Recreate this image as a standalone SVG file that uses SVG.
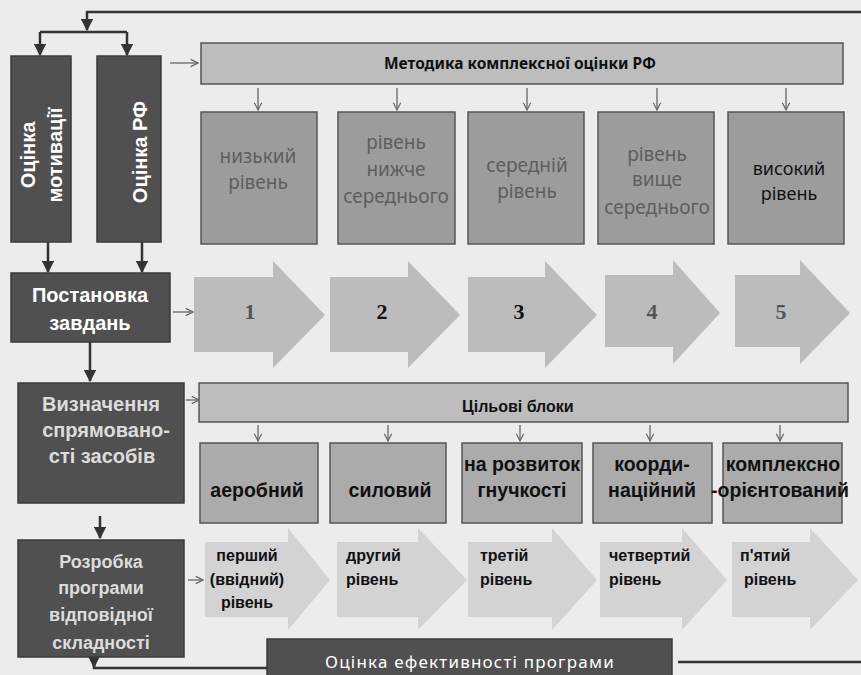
<svg xmlns="http://www.w3.org/2000/svg" width="861" height="675" viewBox="0 0 861 675">
<style>
.bg{fill:#ececec}
.dark{fill:#505050;stroke:#3a3a3a;stroke-width:1.5}
.bar{fill:#bdbdbd;stroke:#555;stroke-width:1.5}
.lvl{fill:#9c9c9c;stroke:#555;stroke-width:1.5}
.tgt{fill:#ababab;stroke:#555;stroke-width:1.5}
.bigarrow{fill:#bcbcbc}
.lowarrow{fill:#d3d3d3}
.wt{fill:#fff;font-family:"Liberation Sans",Arial,sans-serif;font-weight:bold;font-size:20px;text-anchor:middle}
.lt{fill:#dcdcdc;font-family:"Liberation Sans",Arial,sans-serif;font-weight:bold;font-size:18px;text-anchor:middle}
.gt{fill:#5e5e5e;font-family:"Noto Sans","Open Sans",sans-serif;font-size:19px;text-anchor:middle}
.bt{fill:#111;font-family:"Noto Sans","Open Sans",sans-serif;font-weight:bold;font-size:15.5px;text-anchor:middle}
.tb{fill:#111;font-family:"Liberation Sans",Arial,sans-serif;font-weight:bold;font-size:19.5px;text-anchor:middle}
.st{fill:#111;font-family:"Liberation Sans",Arial,sans-serif;font-weight:bold;font-size:16px}
.num{fill:#555;font-family:"Liberation Serif","Times New Roman",serif;font-weight:bold;font-size:22px;text-anchor:middle}
.ln{fill:none;stroke:#333;stroke-width:2.5}
.thin{fill:none;stroke:#666;stroke-width:1.3}
</style>
<defs>
<marker id="ah" viewBox="0 0 10 10" refX="9" refY="5" markerWidth="5" markerHeight="5" orient="auto"><path d="M0,0 L10,5 L0,10 Z" fill="#333"/></marker>
<marker id="oh" viewBox="0 0 10 10" refX="9" refY="5" markerWidth="7" markerHeight="7" orient="auto"><path d="M1,1 L9,5 L1,9" fill="none" stroke="#666" stroke-width="1.3"/></marker>
</defs>
<rect class="bg" x="0" y="0" width="861" height="675"/>

<g id="connectors">
<path class="ln" d="M861,12 H87 V30" marker-end="url(#ah)"/>
<path class="ln" d="M40,32 H127"/>
<path class="ln" d="M40,32 V55" marker-end="url(#ah)"/>
<path class="ln" d="M127,32 V55" marker-end="url(#ah)"/>
<path class="ln" d="M48,242 V272" marker-end="url(#ah)"/>
<path class="ln" d="M142,242 V272" marker-end="url(#ah)"/>
<path class="ln" d="M90,342 V381" marker-end="url(#ah)"/>
<path class="ln" d="M100,516 V538" marker-end="url(#ah)"/>
<path class="ln" d="M94,657 V668 H267"/>
<path class="ln" d="M94,657 V667" marker-end="url(#ah)"/>
<path class="ln" d="M678,662 H861"/>
<path class="thin" d="M170,63 H198" marker-end="url(#oh)"/>
<path class="thin" d="M173,312 H193" marker-end="url(#oh)"/>
<path class="thin" d="M186,400 H199" marker-end="url(#oh)"/>
<path class="thin" d="M188,580 H203" marker-end="url(#oh)"/>
<path class="thin" d="M258,88 V110" marker-end="url(#oh)"/>
<path class="thin" d="M397,88 V110" marker-end="url(#oh)"/>
<path class="thin" d="M527,88 V110" marker-end="url(#oh)"/>
<path class="thin" d="M657,88 V110" marker-end="url(#oh)"/>
<path class="thin" d="M786,88 V110" marker-end="url(#oh)"/>
<path class="thin" d="M258,425 V441" marker-end="url(#oh)"/>
<path class="thin" d="M388,425 V441" marker-end="url(#oh)"/>
<path class="thin" d="M520,425 V441" marker-end="url(#oh)"/>
<path class="thin" d="M650,425 V441" marker-end="url(#oh)"/>
<path class="thin" d="M780,425 V441" marker-end="url(#oh)"/>
</g>

<g id="n-motivation">
<rect class="dark" x="11" y="56" width="60" height="186"/>
<text class="wt" transform="translate(35,155) rotate(-90)">Оцінка</text>
<text class="wt" transform="translate(62,155) rotate(-90)">мотивації</text>
</g>
<g id="n-rf">
<rect class="dark" x="97" y="56" width="64" height="186"/>
<text class="wt" transform="translate(147,152) rotate(-90)">Оцінка РФ</text>
</g>

<g id="n-method">
<rect class="bar" x="201" y="43" width="642" height="41"/>
<text class="bt" x="520" y="69">Методика комплексної оцінки РФ</text>
</g>

<g id="n-l1"><rect class="lvl" x="201" y="112" width="116" height="132"/>
<text class="gt" x="258" y="163">низький</text><text class="gt" x="258" y="189">рівень</text></g>
<g id="n-l2"><rect class="lvl" x="338" y="112" width="117" height="132"/>
<text class="gt" x="396" y="149">рівень</text><text class="gt" x="396" y="176">нижче</text><text class="gt" x="396" y="203">середнього</text></g>
<g id="n-l3"><rect class="lvl" x="468" y="112" width="116" height="132"/>
<text class="gt" x="527" y="172">середній</text><text class="gt" x="527" y="198">рівень</text></g>
<g id="n-l4"><rect class="lvl" x="598" y="112" width="116" height="132"/>
<text class="gt" x="657" y="161">рівень</text><text class="gt" x="657" y="186">вище</text><text class="gt" x="657" y="214">середнього</text></g>
<g id="n-l5"><rect class="lvl" x="728" y="112" width="116" height="132"/>
<text class="gt" x="789" y="175" style="fill:#111;font-size:18px">високий</text><text class="gt" x="789" y="200" style="fill:#111;font-size:18px">рівень</text></g>

<g id="n-task">
<rect class="dark" x="11" y="273" width="159" height="69"/>
<text class="wt" x="90" y="302">Постановка</text>
<text class="wt" x="90" y="330">завдань</text>
</g>

<g id="n-a1"><path class="bigarrow" d="M194,277 H273 V261 L325,315 L273,368 V352 H194 Z"/><text class="num" x="250" y="319">1</text></g>
<g id="n-a2"><path class="bigarrow" d="M330,277 H408 V261 L460,315 L408,368 V352 H330 Z"/><text class="num" x="382" y="319" style="fill:#111">2</text></g>
<g id="n-a3"><path class="bigarrow" d="M468,277 H545 V261 L597,315 L545,368 V352 H468 Z"/><text class="num" x="519" y="319" style="fill:#111">3</text></g>
<g id="n-a4"><path class="bigarrow" d="M605,275 H673 V260 L720,313 L673,364 V347 H605 Z"/><text class="num" x="652" y="319">4</text></g>
<g id="n-a5"><path class="bigarrow" d="M735,275 H800 V260 L850,313 L800,364 V347 H735 Z"/><text class="num" x="781" y="319">5</text></g>

<g id="n-direction">
<rect class="dark" x="18" y="383" width="166" height="120"/>
<text class="lt" x="101" y="411" style="font-size:20px">Визначення</text>
<text class="lt" x="106" y="437" style="font-size:20px">спрямовано-</text>
<text class="lt" x="102" y="463" style="font-size:20px">сті засобів</text>
</g>

<g id="n-blocks">
<rect class="bar" x="199" y="383" width="649" height="39"/>
<text class="st" x="462" y="412">Цільові блоки</text>
</g>

<g id="n-b1"><rect class="tgt" x="200" y="443" width="118" height="80"/><text class="tb" x="257" y="497">аеробний</text></g>
<g id="n-b2"><rect class="tgt" x="330" y="443" width="116" height="80"/><text class="tb" x="390" y="497">силовий</text></g>
<g id="n-b3"><rect class="tgt" x="462" y="443" width="120" height="80"/><text class="tb" x="522" y="471">на розвиток</text><text class="tb" x="522" y="497">гнучкості</text></g>
<g id="n-b4"><rect class="tgt" x="593" y="443" width="119" height="80"/><text class="tb" x="652" y="471">коорди-</text><text class="tb" x="652" y="497">наційний</text></g>
<g id="n-b5"><rect class="tgt" x="723" y="443" width="119" height="80"/><text class="tb" x="783" y="471">комплексно</text><text class="tb" x="780" y="497">-орієнтований</text></g>

<g id="n-dev">
<rect class="dark" x="18" y="540" width="166" height="117"/>
<text class="lt" x="101" y="568">Розробка</text>
<text class="lt" x="101" y="594">програми</text>
<text class="lt" x="101" y="621">відповідної</text>
<text class="lt" x="101" y="649">складності</text>
</g>

<g id="n-p1"><path class="lowarrow" d="M205,542 H288 V528 L330,580 L288,630 V617 H205 Z"/>
<text class="st" x="247" y="561" text-anchor="middle">перший</text><text class="st" x="247" y="585" text-anchor="middle">(ввідний)</text><text class="st" x="247" y="608" text-anchor="middle">рівень</text></g>
<g id="n-p2"><path class="lowarrow" d="M337,542 H418 V528 L467,580 L418,630 V617 H337 Z"/>
<text class="st" x="346" y="561">другий</text><text class="st" x="346" y="585">рівень</text></g>
<g id="n-p3"><path class="lowarrow" d="M468,542 H552 V528 L597,580 L552,630 V617 H468 Z"/>
<text class="st" x="480" y="561">третій</text><text class="st" x="480" y="585">рівень</text></g>
<g id="n-p4"><path class="lowarrow" d="M600,542 H682 V528 L727,580 L682,630 V617 H600 Z"/>
<text class="st" x="609" y="561">четвертий</text><text class="st" x="609" y="585">рівень</text></g>
<g id="n-p5"><path class="lowarrow" d="M732,542 H810 V528 L858,580 L810,630 V617 H732 Z"/>
<text class="st" x="740" y="561">п'ятий</text><text class="st" x="744" y="585">рівень</text></g>

<g id="n-eff">
<rect class="dark" x="267" y="639" width="405" height="40"/>
<text x="470" y="668" style="fill:#fff;font-family:'Noto Sans','Open Sans',sans-serif;font-size:17px;text-anchor:middle;letter-spacing:1.2px">Оцінка ефективності програми</text>
</g>
</svg>
